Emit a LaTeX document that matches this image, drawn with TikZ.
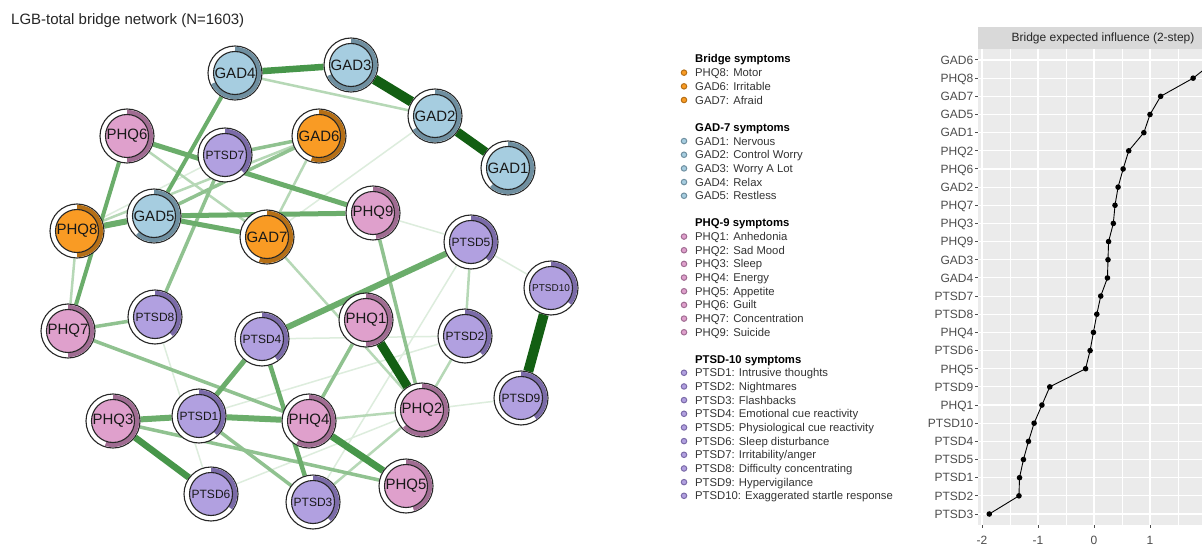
\documentclass[tikz,border=0pt]{standalone}
\usepackage{fontspec}
\setmainfont{Liberation Sans}
\usetikzlibrary{calc}
\pgfdeclarelayer{paper}
\pgfdeclarelayer{background}
\pgfsetlayers{paper,background,main}
\definecolor{gadf}{HTML}{A6CDE0}
\definecolor{gadr}{HTML}{6F8FA0}
\definecolor{phqf}{HTML}{DFA0CC}
\definecolor{phqr}{HTML}{A06C92}
\definecolor{ptsdf}{HTML}{B1A0E0}
\definecolor{ptsdr}{HTML}{7B6BA8}
\definecolor{brf}{HTML}{F99B24}
\definecolor{brr}{HTML}{B56F16}
\definecolor{edA}{HTML}{135F13}
\definecolor{edB}{HTML}{47964A}
\definecolor{edC}{HTML}{6BAD6B}
\definecolor{edD}{HTML}{90C290}
\definecolor{edE}{HTML}{B6D8B6}
\definecolor{edF}{HTML}{DDEDDD}
\definecolor{panelgray}{HTML}{EBEBEB}
\definecolor{stripgray}{HTML}{D9D9D9}
\definecolor{axtext}{HTML}{4D4D4D}
\definecolor{legtext}{HTML}{333333}
\newcommand\symnode[7]{%
  \node[outerring] (#1) at (#2,-#3) {};
  \fill[#4r] ($(#1.center)+(90:26.2)$) arc[start angle=90, delta angle={-360*#5}, radius=26.2]
     -- ($(#1.center)+({90-360*#5}:21.5)$) arc[start angle={90-360*#5}, delta angle={360*#5}, radius=21.5] -- cycle;
  \node[innerdisc, fill=#4f, font=\fontsize{#6}{#6}\selectfont] (#1-in) at (#1.center) {#7};
}
\begin{document}
\begin{tikzpicture}[x=1pt,y=1pt,
  outerring/.style={circle, minimum size=54pt, inner sep=0pt, draw=black!85, line width=1.1pt, fill=white},
  innerdisc/.style={circle, minimum size=43pt, inner sep=0pt, draw=black!85, line width=1.1pt, text=black!90},
  ed1/.style={draw=edA, line width=10pt},
  ed2/.style={draw=edB, line width=6.5pt},
  ed3/.style={draw=edC, line width=5pt},
  ed4/.style={draw=edD, line width=3.5pt},
  ed5/.style={draw=edE, line width=2.5pt},
  ed6/.style={draw=edF, line width=1.5pt},
  legdot/.style={circle, minimum size=5.5pt, inner sep=0pt, line width=1pt},
  legitem/.style={anchor=base west, inner sep=0pt, text=legtext, font=\fontsize{11.3}{13}\selectfont},
  leghead/.style={anchor=base west, inner sep=0pt, text=black, font=\fontsize{11.3}{13}\selectfont\bfseries},
  axlab/.style={anchor=base east, inner sep=0pt, text=axtext, font=\fontsize{12}{14}\selectfont},
]
\useasboundingbox (0,0) rectangle (1202,-548);
\begin{pgfonlayer}{paper}
\fill[white] (0,0) rectangle (1202,-548);
\end{pgfonlayer}

% title
\node[anchor=base west, inner sep=0pt, text=black!85, font=\fontsize{15}{18}\selectfont] (title) at (11,-25) {LGB-total bridge network (N=1603)};

% nodes
\symnode{GAD4}{235}{73}{gad}{0.68}{15}{GAD4}
\symnode{GAD3}{351}{65}{gad}{0.68}{15}{GAD3}
\symnode{GAD2}{435}{116}{gad}{0.66}{15}{GAD2}
\symnode{GAD1}{508}{168}{gad}{0.62}{15}{GAD1}
\symnode{PHQ6}{127}{136}{phq}{0.5}{15}{PHQ6}
\symnode{PTSD7}{225}{155}{ptsd}{0.37}{12}{PTSD7}
\symnode{GAD6}{319}{136}{br}{0.55}{15}{GAD6}
\symnode{GAD5}{154}{216}{gad}{0.62}{15}{GAD5}
\symnode{PHQ8}{77}{231}{br}{0.5}{15}{PHQ8}
\symnode{GAD7}{267}{237}{br}{0.55}{15}{GAD7}
\symnode{PHQ9}{373}{213}{phq}{0.48}{15}{PHQ9}
\symnode{PTSD5}{471}{242}{ptsd}{0.38}{12}{PTSD5}
\symnode{PTSD10}{551}{288}{ptsd}{0.36}{10}{PTSD10}
\symnode{PHQ7}{68}{331}{phq}{0.5}{15}{PHQ7}
\symnode{PTSD8}{155}{317}{ptsd}{0.38}{12}{PTSD8}
\symnode{PTSD4}{262}{339}{ptsd}{0.4}{12}{PTSD4}
\symnode{PHQ1}{366}{320}{phq}{0.5}{15}{PHQ1}
\symnode{PTSD2}{465}{336}{ptsd}{0.38}{12}{PTSD2}
\symnode{PTSD9}{521}{398}{ptsd}{0.4}{12}{PTSD9}
\symnode{PHQ2}{422}{410}{phq}{0.63}{15}{PHQ2}
\symnode{PHQ3}{113}{421}{phq}{0.55}{15}{PHQ3}
\symnode{PTSD1}{199}{416}{ptsd}{0.38}{12}{PTSD1}
\symnode{PHQ4}{309}{421}{phq}{0.58}{15}{PHQ4}
\symnode{PHQ5}{406}{486}{phq}{0.45}{15}{PHQ5}
\symnode{PTSD6}{211}{494}{ptsd}{0.35}{12}{PTSD6}
\symnode{PTSD3}{313}{502}{ptsd}{0.38}{12}{PTSD3}

% edges
\begin{pgfonlayer}{background}
\draw[ed6] (GAD2) -- (GAD7);
\draw[ed6] (PTSD7) -- (PHQ8);
\draw[ed6] (PHQ9) -- (PTSD5);
\draw[ed6] (PTSD5) -- (PTSD10);
\draw[ed6] (PHQ2) -- (PTSD9);
\draw[ed6] (PTSD4) -- (PTSD2);
\draw[ed6] (PTSD8) -- (PTSD6);
\draw[ed6] (PTSD6) -- (PHQ2);
\draw[ed6] (PTSD1) -- (PTSD2);
\draw[ed6] (PTSD5) -- (PTSD3);
\draw[ed5] (GAD4) -- (GAD2);
\draw[ed5] (GAD6) -- (GAD7);
\draw[ed5] (GAD6) -- (PHQ8);
\draw[ed5] (PHQ6) -- (GAD7);
\draw[ed5] (PTSD5) -- (PTSD2);
\draw[ed5] (PHQ2) -- (PTSD2);
\draw[ed5] (PHQ4) -- (PHQ2);
\draw[ed5] (PTSD3) -- (PHQ2);
\draw[ed5] (GAD7) -- (PHQ2);
\draw[ed5] (PHQ8) -- (PHQ7);
\draw[ed4] (PHQ7) -- (PTSD8);
\draw[ed4] (PHQ7) -- (PHQ4);
\draw[ed4] (PTSD7) -- (GAD6);
\draw[ed4] (GAD6) -- (GAD5);
\draw[ed4] (PTSD7) -- (PTSD8);
\draw[ed4] (PTSD1) -- (PTSD3);
\draw[ed4] (PHQ3) -- (PHQ5);
\draw[ed4] (PHQ9) -- (PHQ2);
\draw[ed4] (PHQ1) -- (PHQ4);
\draw[ed3] (PHQ6) -- (PHQ9);
\draw[ed3] (GAD5) -- (PHQ9);
\draw[ed3] (GAD5) -- (GAD7);
\draw[ed3, line width=6pt] (PHQ8) -- (GAD5);
\draw[ed3, line width=6pt] (PTSD5) -- (PTSD4);
\draw[ed3, line width=6pt] (PHQ3) -- (PTSD1);
\draw[ed3, line width=6pt] (PTSD1) -- (PHQ4);
\draw[ed3] (PTSD4) -- (PTSD1);
\draw[ed3, line width=4.5pt] (PTSD4) -- (PTSD3);
\draw[ed3, line width=4pt] (GAD4) -- (GAD5);
\draw[ed3, line width=4pt] (PHQ6) -- (PHQ7);
\draw[ed2] (GAD4) -- (GAD3);
\draw[ed2, line width=7pt] (PHQ4) -- (PHQ5);
\draw[ed2] (PHQ3) -- (PTSD6);
\draw[ed1] (GAD3) -- (GAD2);
\draw[ed1, line width=9pt] (GAD2) -- (GAD1);
\draw[ed1, line width=9pt] (PHQ1) -- (PHQ2);
\draw[ed1] (PTSD10) -- (PTSD9);
\end{pgfonlayer}

% legend
\node[leghead] (hb) at (695,-63) {Bridge symptoms};
\foreach \t [count=\k] in {PHQ8: Motor, GAD6: Irritable, GAD7: Afraid}{
  \node[legdot, fill=brf, draw=brr] (db\k) at (684,{-(59+13.67*\k)}) {};
  \node[legitem] (lb\k) at (695,{-(63+13.67*\k)}) {\t};
}
\node[leghead] (hg) at (695,-131.7) {GAD-7 symptoms};
\foreach \t [count=\k] in {GAD1: Nervous, GAD2: Control Worry, GAD3: Worry A Lot, GAD4: Relax, GAD5: Restless}{
  \node[legdot, fill=gadf, draw=gadr] (dg\k) at (684,{-(127.4+13.67*\k)}) {};
  \node[legitem] (lg\k) at (695,{-(131.4+13.67*\k)}) {\t};
}
\node[leghead] (hp) at (695,-226.7) {PHQ-9 symptoms};
\foreach \t [count=\k] in {PHQ1: Anhedonia, PHQ2: Sad Mood, PHQ3: Sleep, PHQ4: Energy, PHQ5: Appetite, PHQ6: Guilt, PHQ7: Concentration, PHQ9: Suicide}{
  \node[legdot, fill=phqf, draw=phqr] (dp\k) at (684,{-(222.9+13.67*\k)}) {};
  \node[legitem] (lp\k) at (695,{-(226.9+13.67*\k)}) {\t};
}
\node[leghead] (ht) at (695,-363.3) {PTSD-10 symptoms};
\foreach \t [count=\k] in {PTSD1: Intrusive thoughts, PTSD2: Nightmares, PTSD3: Flashbacks, PTSD4: Emotional cue reactivity, PTSD5: Physiological cue reactivity, PTSD6: Sleep disturbance, PTSD7: Irritability/anger, PTSD8: Difficulty concentrating, PTSD9: Hypervigilance, PTSD10: Exaggerated startle response}{
  \node[legdot, fill=ptsdf, draw=ptsdr] (dt\k) at (684,{-(359.1+13.67*\k)}) {};
  \node[legitem] (lt\k) at (695,{-(363.1+13.67*\k)}) {\t};
}

% plot
\begin{scope}
\clip (978,-20) rectangle (1202,-526);
\fill[panelgray] (978,-49) rectangle (1240,-525);
\fill[stripgray] (978,-27) rectangle (1240,-49);
\node[inner sep=0pt, text=black!85, font=\fontsize{12}{14}\selectfont] (strip) at (1103,-38) {Bridge expected influence (2-step)};
\foreach \v in {-1.5,-0.5,0.5,1.5}{
  \draw[white, line width=0.55pt] ({1094+56*\v},-49) -- ({1094+56*\v},-525);
}
\foreach \v in {-2,-1,0,1,2}{
  \draw[white, line width=1.1pt] ({1094+56*\v},-49) -- ({1094+56*\v},-525);
}
\foreach \lab/\val [count=\i from 0] in {GAD6/2.18, PHQ8/1.77, GAD7/1.19, GAD5/1.00, GAD1/0.89, PHQ2/0.62, PHQ6/0.52, GAD2/0.43, PHQ7/0.375, PHQ3/0.345, PHQ9/0.26, GAD3/0.25, GAD4/0.24, PTSD7/0.12, PTSD8/0.05, PHQ4/-0.01, PTSD6/-0.07, PHQ5/-0.15, PTSD9/-0.79, PHQ1/-0.93, PTSD10/-1.07, PTSD4/-1.17, PTSD5/-1.26, PTSD1/-1.33, PTSD2/-1.34, PTSD3/-1.87}{
  \draw[white, line width=1.1pt] (978,{-(60+18.16*\i)}) -- (1240,{-(60+18.16*\i)});
  \coordinate (p\i) at ({1094+56*\val},{-(60+18.16*\i)});
}
\draw[black, line width=0.9pt] (p0) \foreach \i in {1,...,25}{ -- (p\i) };
\foreach \i in {0,...,25}{ \fill[black] (p\i) circle[radius=2.8]; }
\end{scope}
\foreach \lab [count=\i from 0] in {GAD6, PHQ8, GAD7, GAD5, GAD1, PHQ2, PHQ6, GAD2, PHQ7, PHQ3, PHQ9, GAD3, GAD4, PTSD7, PTSD8, PHQ4, PTSD6, PHQ5, PTSD9, PHQ1, PTSD10, PTSD4, PTSD5, PTSD1, PTSD2, PTSD3}{
  \node[axlab] (yl\i) at (973.5,{-(64.3+18.16*\i)}) {\lab};
  \draw[black!70, line width=1pt] (975,{-(60+18.16*\i)}) -- (978,{-(60+18.16*\i)});
}
\foreach \lab/\v [count=\i] in {-2/-2,-1/-1,0/0,1/1}{
  \draw[black!70, line width=1pt] ({1094+56*\v},-525) -- ({1094+56*\v},-528);
  \node[anchor=base, inner sep=0pt, text=axtext, font=\fontsize{12}{14}\selectfont] (xl\i) at ({1094+56*\v},-544) {\lab};
}
\end{tikzpicture}
\end{document}
